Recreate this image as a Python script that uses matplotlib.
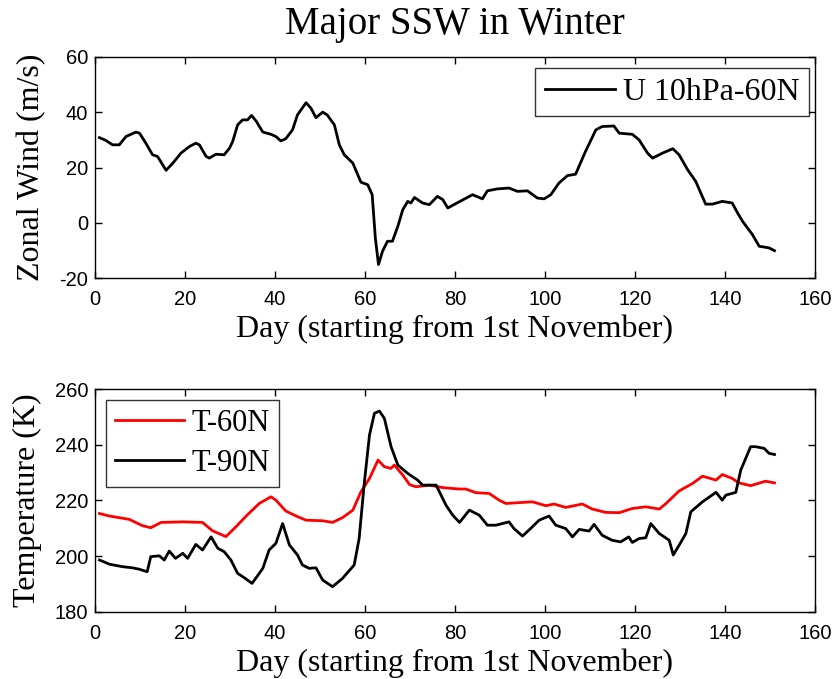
import matplotlib
matplotlib.use("Agg")
import matplotlib.pyplot as plt

plt.rcParams["axes.unicode_minus"] = False

# Zonal wind at 10 hPa, 60N (m/s)
u_days = [1, 2.4, 3.9, 5.4, 6.9, 9.1, 9.9, 11.3, 12.8, 13.9,
          15.8, 17.3, 19.1, 21, 22.4, 23.2, 24.7, 25.4, 26.9, 28.7,
          29.9, 30.6, 31.7, 32.8, 33.9, 34.8, 35.8, 37.3, 39.1, 40.2,
          41.3, 42.4, 43.9, 45, 46.9, 48, 49.1, 50.6, 51.6, 53.2,
          54.3, 55.4, 57.3, 59.1, 60.6, 61.6, 62.3, 63, 63.9, 65,
          66.1, 67.3, 68.4, 69.5, 70.2, 71, 72.8, 74.3, 76.1, 77.3,
          78.4, 80.2, 83.9, 86.1, 87.2, 89.4, 92, 93.9, 96.1, 98.3,
          99.8, 101.3, 103.1, 105, 106.8, 109, 111.3, 112.7, 115.3, 116.5,
          119.4, 120.9, 122.8, 123.9, 126.1, 128.4, 129.8, 131.7, 133.5, 135.7,
          137.2, 139.4, 141.6, 142.8, 143.9, 146.1, 147.6, 149.8, 151]
u_wind = [30.8, 29.8, 28.2, 28.2, 31.2, 32.8, 32.4, 28.8, 24.6, 24,
          19, 21.6, 25.2, 27.6, 28.8, 28.2, 24, 23.4, 24.8, 24.6,
          27, 29.4, 35.4, 37.2, 37.2, 38.8, 36.8, 32.8, 32, 31.2,
          29.6, 30.4, 33.6, 39, 43.4, 41.4, 38, 40, 39, 35.4,
          28.2, 24.6, 21.6, 14.7, 13.8, 10.2, -5.4, -15, -10.2, -6.6,
          -6.6, -1.2, 4.8, 7.8, 7.2, 9.2, 7.2, 6.6, 9.6, 8.4,
          5.4, 7.0, 10.2, 8.7, 11.6, 12.3, 12.6, 11.4, 11.6, 9,
          8.7, 10.2, 14.4, 17.1, 17.6, 25.8, 33.6, 34.8, 35, 32.4,
          32, 30, 25.2, 23.4, 25.2, 26.8, 24.6, 19.2, 15, 6.8,
          6.8, 7.8, 7.2, 3.6, 0.6, -4.2, -8.4, -9, -10]

# Temperature at 60N (K)
t60_days = [1, 3.2, 7.6, 10.6, 12.4, 14.7, 19.5, 23.9, 26.1, 29.1,
            31.3, 33.6, 36.5, 39.1, 40.2, 42.4, 44.7, 46.9, 50.6, 52.8,
            55, 57.3, 59.1, 61, 62.9, 64.3, 65.8, 66.5, 68.4, 69.9,
            71.3, 74.3, 77.3, 80.9, 82.4, 84.6, 87.6, 89.8, 91.3, 94.2,
            97.2, 100.2, 102, 104.6, 108.3, 110.5, 113.5, 116.5, 119.4, 122.4,
            125.4, 126.9, 129.8, 132.8, 135, 138, 139.4, 141.6, 143.1, 145.7,
            149, 151]
t60 = [215.3, 214.4, 213.2, 210.9, 210.2, 212.1, 212.3, 212.1, 209.1, 207,
       210.5, 214.4, 218.9, 221.3, 220.1, 216.2, 214.4, 212.9, 212.7, 212.1,
       213.8, 216.5, 223.1, 227.9, 234.5, 232.1, 231.5, 232.7, 229.1, 225.7,
       224.9, 225.5, 224.6, 224.1, 224.1, 222.8, 222.5, 220.1, 218.9, 219.2,
       219.5, 218.1, 218.7, 217.5, 218.7, 216.9, 215.7, 215.6, 217.1, 217.7,
       216.9, 218.9, 223.4, 226.1, 228.7, 227.3, 229.3, 227.9, 226.3, 225.3,
       226.9, 226.3]

# Temperature at 90N (K)
t90_days = [1, 3.2, 6.1, 8.3, 9.8, 11.6, 12.4, 14.3, 15.4, 16.5,
            17.9, 19.5, 20.6, 22.4, 23.9, 25.8, 27.3, 28.7, 30.2, 31.7,
            33.2, 34.9, 35.8, 37.3, 38.7, 40.2, 41.7, 43.2, 45, 46.1,
            47.6, 49.1, 50.6, 52.8, 55, 57.6, 58.7, 59.8, 61, 62.1,
            63.2, 64.3, 65.8, 67.3, 69.5, 71.7, 72.8, 75.8, 78, 79.5,
            81, 83.2, 85.4, 87.2, 89.1, 92, 93.1, 95, 96.8, 98.7,
            100.9, 102.4, 104.6, 106.1, 107.6, 109.8, 110.9, 112.7, 114.9, 116.8,
            118.6, 119.4, 120.9, 122.4, 123.5, 125.4, 127.6, 128.5, 129.8, 131.3,
            132.4, 135, 138, 139.4, 140.2, 142.4, 143.5, 145.7, 146.8, 148.7,
            149.8, 151]
t90 = [198.6, 197.1, 196.2, 195.8, 195.3, 194.4, 199.8, 200.1, 198.6, 201.8,
       199.2, 201, 199.2, 204.2, 202.2, 206.9, 202.8, 201.6, 198.6, 193.8,
       192.2, 190.2, 192.2, 195.6, 202.2, 204.6, 211.7, 204, 200.4, 196.8,
       195.6, 195.8, 191.4, 189, 192, 196.8, 206.3, 225.5, 243.5, 251.3,
       252.1, 249.5, 239.3, 232.7, 229.7, 227.3, 225.5, 225.5, 218.3, 214.7,
       212.1, 216.5, 214.7, 211.1, 211.1, 212.3, 209.9, 207.2, 209.9, 212.9,
       214.4, 211.1, 209.9, 206.9, 209.6, 209, 211.4, 207.5, 205.7, 205.1,
       206.9, 204.9, 206.3, 206.6, 211.7, 208.1, 205.7, 200.4, 203.9, 208.1,
       215.9, 219.5, 222.9, 220.1, 221.9, 222.9, 230.9, 239.3, 239.3, 238.7,
       236.9, 236.5]

x_ticks = [0, 20, 40, 60, 80, 100, 120, 140, 160]
serif = "Liberation Serif"
sans = "Liberation Sans"

fig = plt.figure(figsize=(8.39, 6.79), dpi=100)
ax1 = fig.add_axes([0.1132, 0.590, 0.8582, 0.3265])
ax2 = fig.add_axes([0.1132, 0.099, 0.8582, 0.328])


def style_axes(ax):
    ax.set_xlim(0, 160)
    ax.set_xticks(x_ticks)
    ax.tick_params(direction="in", top=True, right=True, length=5,
                   width=1, labelsize=14.5)
    ax.tick_params(axis="x", pad=8.5)
    ax.tick_params(axis="y", pad=5)
    for lbl in ax.get_xticklabels() + ax.get_yticklabels():
        lbl.set_fontfamily(sans)
    for sp in ax.spines.values():
        sp.set_linewidth(1)
    ax.set_xlabel("Day (starting from 1st November)", fontsize=23,
                  fontfamily=serif, labelpad=4)


ax1.plot(u_days, u_wind, color="black", lw=2, label="U 10hPa-60N")
ax1.set_ylim(-20, 60)
ax1.set_yticks([-20, 0, 20, 40, 60])
style_axes(ax1)
ax1.set_ylabel("Zonal Wind (m/s)", fontsize=23, fontfamily=serif, labelpad=9)
ax1.set_title("Major SSW in Winter", fontsize=28, fontfamily=serif, pad=16)
leg1 = ax1.legend(loc="upper right", bbox_to_anchor=(0.992, 0.95),
                  fancybox=False, edgecolor="black",
                  prop={"family": serif, "size": 23}, handlelength=2.2,
                  handletextpad=0.25, borderpad=0.3, borderaxespad=0.0)
leg1.get_frame().set_linewidth(1)

ax2.plot(t60_days, t60, color="red", lw=2, label="T-60N")
ax2.plot(t90_days, t90, color="black", lw=2, label="T-90N")
ax2.set_ylim(180, 260)
ax2.set_yticks([180, 200, 220, 240, 260])
style_axes(ax2)
ax2.set_ylabel("Temperature (K)", fontsize=23, fontfamily=serif, labelpad=9)
leg2 = ax2.legend(loc="upper left", fancybox=False, edgecolor="black",
                  prop={"family": serif, "size": 22}, handlelength=2.25,
                  handletextpad=0.25, borderpad=0.3, labelspacing=0.35,
                  borderaxespad=0.35)
leg2.get_frame().set_linewidth(1)

fig.savefig("out.png", dpi=100, facecolor="white")
